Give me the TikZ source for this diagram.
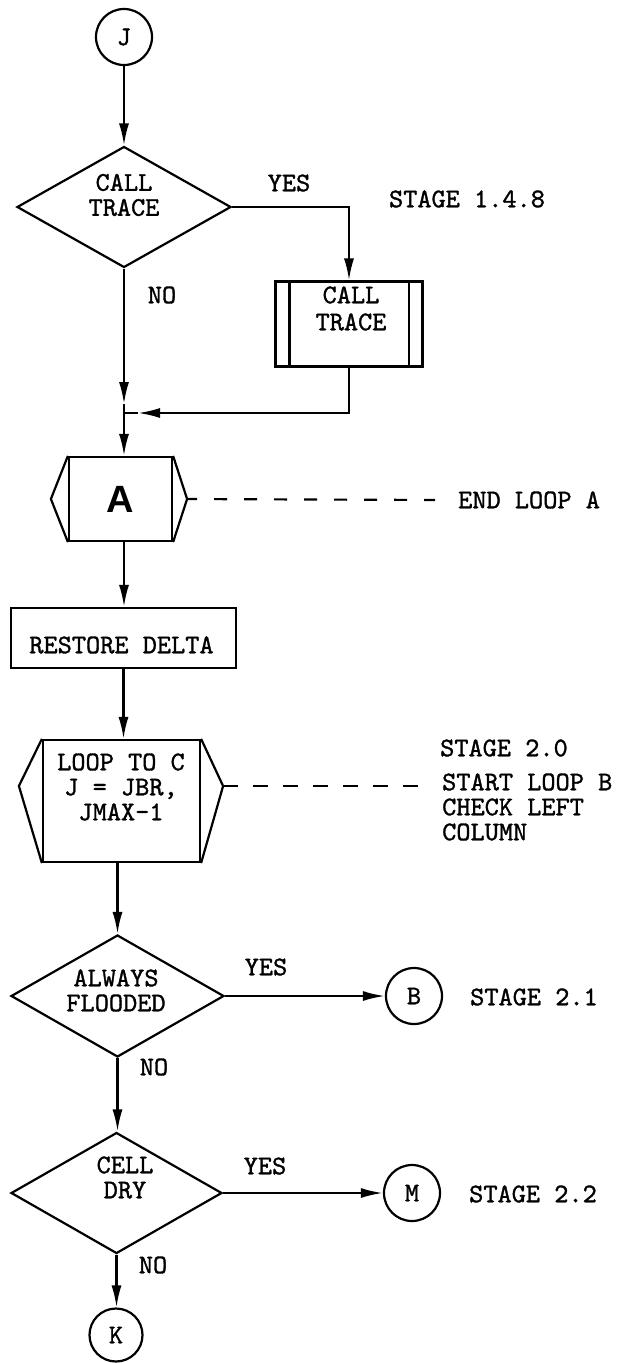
\documentclass[tikz,border=0pt]{standalone}
\usepackage{fontspec}
\newfontfamily\sansA{Liberation Sans}
\newfontfamily\tw{lmmono10-regular.otf}[FakeBold=1.2]
\usetikzlibrary{shapes.geometric,arrows.meta}
\begin{document}
\begin{tikzpicture}[x=1pt,y=-1pt,
  every node/.style={font=\tw\fontsize{27}{25}\selectfont, inner sep=0pt},
  ln/.style={line width=2.2pt},
  arr/.style={ln,-{Latex[length=22pt,width=10pt]}},
  dec/.style={draw,line width=2.2pt,diamond,aspect=1.75},
  conn/.style={draw,line width=2.2pt,circle,minimum size=56pt},
  box/.style={draw,line width=2.2pt,rectangle},
  txt/.style={align=center},
  dsh/.style={line width=2.2pt,dash pattern=on 13pt off 17pt}
]
\useasboundingbox (0,0) rectangle (626,1363);

% ---- top: J and CALL TRACE decision
\node[conn] (J) at (124,37) {J};
\node[dec, minimum width=214pt, minimum height=121pt] (D1) at (124,207) {};
\node[txt] (D1t) at (124,195) {CALL\\TRACE};
\node (yes1) at (289,183) {YES};
\node (st1) at (467,199) {STAGE 1.4.8};
\node (no1) at (162,295) {NO};
\draw[arr] (J.south) -- (J.south |- D1.north);

% ---- CALL TRACE predefined process
\node[box, minimum width=147pt, minimum height=85pt] (CT) at (349,324) {};
\node[txt] (CTt) at (351,308.5) {CALL\\[2pt]TRACE};
\draw[ln] ([xshift=15pt]CT.north west) -- ([xshift=15pt]CT.south west);
\draw[ln] ([xshift=-15pt]CT.north east) -- ([xshift=-15pt]CT.south east);
\draw[arr] (D1.east) -| (CT.north);

% ---- junction
\coordinate (jn) at (124,413);
\coordinate (jd) at (124,404);
\coordinate (jt) at (138,413);
\draw[arr] (D1.south) -- (jd);
\draw[arr] (CT.south) |- (jt);
\draw[ln] (jt) -- (jn);

% ---- loop end A
\node[box, minimum width=103pt, minimum height=84pt] (A) at (120.5,499) {};
\node (At) at (120.5,499) {\sansA\bfseries\fontsize{38}{38}\selectfont A};
\draw[ln] (A.north west) -- ([xshift=-17pt]A.west) -- (A.south west);
\draw[ln] (A.north east) -- ([xshift=14pt]A.east) -- (A.south east);
\draw[arr] (jd) -- (jd |- A.north);
\coordinate (Ap) at ([xshift=14pt]A.east);
\coordinate (Ae) at (435,500);
\draw[dsh, dash phase=3pt] (Ap) -- (Ae);
\node[anchor=west] (ela) at (458,500) {END LOOP A};

% ---- restore delta
\node[box, minimum width=225pt, minimum height=60pt] (R) at (123.5,638) {};
\node (Rt) at (121.5,645) {RESTORE DELTA};
\draw[arr] (A.south -| jd) -- (jd |- R.north);

% ---- loop to C
\node[box, minimum width=157pt, minimum height=122pt] (L) at (121.5,801) {};
\node[txt] (Lt) at (121,787) {LOOP TO C\\J = JBR,\\JMAX-1};
\draw[ln] (L.north west) -- ([xshift=-23pt,yshift=15pt]L.west) -- (L.south west);
\draw[ln] (L.north east) -- ([xshift=22pt,yshift=15pt]L.east) -- (L.south east);
\draw[arr] (R.south) -- (R.south |- L.north);
\coordinate (Lp) at ([xshift=22pt,yshift=15pt]L.east);
\coordinate (Le) at (418,786);
\draw[line width=2.2pt, dash pattern=on 15pt off 15pt] (Lp) -- (Le);
\node[anchor=west] (s20) at (440,748) {STAGE 2.0};
\node[anchor=west, align=left] (slb) at (442,807) {START LOOP B\\CHECK LEFT\\COLUMN};

% ---- always flooded
\node[dec, minimum width=213pt, minimum height=122pt] (D2) at (117.5,996) {};
\node[txt] (D2t) at (116,990.5) {ALWAYS\\FLOODED};
\draw[arr] (L.south -| D2.north) -- (D2.north);
\node[conn] (B) at (414,996) {B};
\draw[arr] (D2.east) -- (B.west);
\node (yes2) at (266,967) {YES};
\node (st21) at (534,997) {STAGE 2.1};
\node (no2) at (154,1067) {NO};

% ---- cell dry
\node[dec, minimum width=211pt, minimum height=121pt] (D3) at (116.5,1193) {};
\node[txt] (D3t) at (125,1177.5) {CELL\\DRY};
\draw[arr] (D2.south) -- (D2.south |- D3.north);
\node[conn] (M) at (412,1193) {M};
\draw[arr] (D3.east) -- (M.west);
\node (yes3) at (265,1166) {YES};
\node (st22) at (533,1194) {STAGE 2.2};
\node (no3) at (153,1265) {NO};

% ---- K
\node[conn, minimum size=53pt] (K) at (116,1335) {K};
\draw[arr] (D3.south) -- (D3.south |- K.north);
\end{tikzpicture}
\end{document}
